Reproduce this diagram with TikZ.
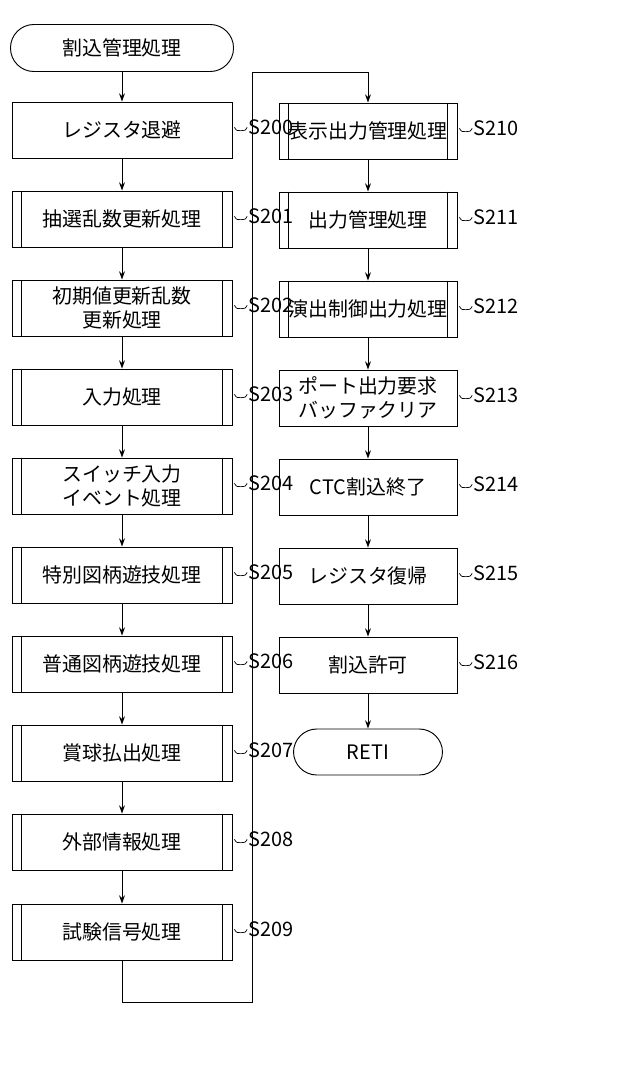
\documentclass[tikz,border=0pt]{standalone}
\usepackage{fontspec}
\setmainfont{Noto Sans CJK JP}
\usetikzlibrary{arrows.meta}
\tikzset{
  stepbox/.style={draw,line width=0.8pt,minimum width=6.6cm,minimum height=1.68cm,align=center,font=\fontsize{17}{21}\selectfont},
  rstepbox/.style={stepbox,minimum width=5.34cm},
  term/.style={draw,line width=0.8pt,rounded corners=0.7cm,align=center,font=\fontsize{17}{21}\selectfont},
  flow/.style={line width=0.8pt,-{Stealth[length=7pt,width=5pt]}},
  steplbl/.style={anchor=west,inner sep=0pt,font=\fontsize{17}{20}\selectfont}
}
% tilde leader from a box edge to its step label
\newcommand{\leader}[2]{%
  \draw[line width=0.6pt] (#1.east) ++(0.06cm,0.08cm) .. controls +(0.06cm,-0.12cm) and +(-0.1cm,0cm) .. ++(0.2cm,-0.1cm) .. controls +(0.1cm,0cm) and +(-0.05cm,-0.1cm) .. ++(0.18cm,0.1cm)
    node[steplbl,right=0.03cm] (l#1) {#2};}
\begin{document}
\begin{tikzpicture}[x=0.03cm,y=-0.03cm]
\useasboundingbox (0,0) rectangle (640,1070);
\node[term,minimum width=6.69cm,minimum height=1.41cm] (start) at (122,48) {割込管理処理};
\node[stepbox] (s200) at (122,130) {レジスタ退避};
\node[stepbox] (s201) at (122,219) {抽選乱数更新処理};
\node[stepbox] (s202) at (122,308) {初期値更新乱数\\更新処理};
\node[stepbox] (s203) at (122,397) {入力処理};
\node[stepbox] (s204) at (122,486) {スイッチ入力\\イベント処理};
\node[stepbox] (s205) at (122,575) {特別図柄遊技処理};
\node[stepbox] (s206) at (122,664) {普通図柄遊技処理};
\node[stepbox] (s207) at (122,753) {賞球払出処理};
\node[stepbox] (s208) at (122,842) {外部情報処理};
\node[stepbox] (s209) at (122,932) {試験信号処理};
\node[rstepbox] (s210) at (368,131) {表示出力管理処理};
\node[rstepbox] (s211) at (368,220) {出力管理処理};
\node[rstepbox] (s212) at (368,309) {演出制御出力処理};
\node[rstepbox] (s213) at (368,398) {ポート出力要求\\バッファクリア};
\node[rstepbox] (s214) at (368,487) {CTC割込終了};
\node[rstepbox] (s215) at (368,576) {レジスタ復帰};
\node[rstepbox] (s216) at (368,665) {割込許可};
\node[term,minimum width=4.47cm,minimum height=1.38cm] (reti) at (368,752) {RETI};
\coordinate (c1) at (122,1002);
\coordinate (c2) at (252,1002);
\coordinate (c3) at (252,72);
\coordinate (c4) at (368,72);
% double side lines of the subroutine boxes
\foreach \n in {s201,s202,s203,s204,s205,s206,s207,s208,s209,s210,s211,s212}
  \draw[line width=0.8pt] ([xshift=0.3cm]\n.north west) -- ([xshift=0.3cm]\n.south west)
    ([xshift=-0.3cm]\n.north east) -- ([xshift=-0.3cm]\n.south east);
\foreach \a/\b in {start/s200,s200/s201,s201/s202,s202/s203,s203/s204,s204/s205,s205/s206,s206/s207,s207/s208,s208/s209,s210/s211,s211/s212,s212/s213,s213/s214,s214/s215,s215/s216,s216/reti}
  \draw[flow] (\a) -- (\b);
\draw[flow] (s209.south) -- (c1) -- (c2) -- (c3) -- (c4) -- (s210.north);
\foreach \n/\t in {s200/S200,s201/S201,s202/S202,s203/S203,s204/S204,s205/S205,s206/S206,s207/S207,s208/S208,s209/S209,s210/S210,s211/S211,s212/S212,s213/S213,s214/S214,s215/S215,s216/S216}
  {\leader{\n}{\t}}
\end{tikzpicture}
\end{document}
